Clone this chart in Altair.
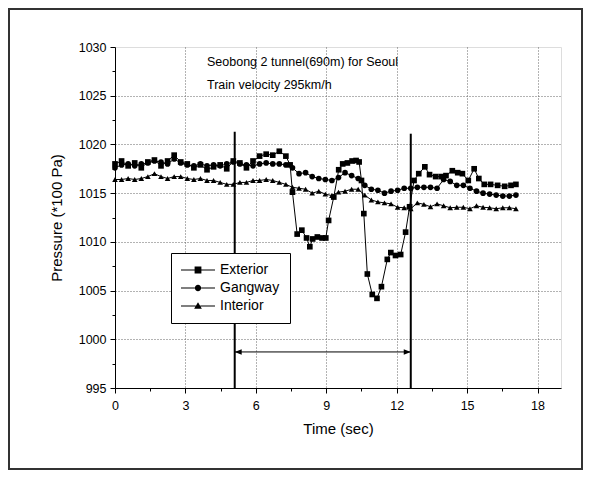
import altair as alt
import pandas as pd

FONT = "Liberation Sans"

series_names = ["Exterior", "Gangway", "Interior"]

ext_t = [0.0, 0.28, 0.56, 0.84, 1.12, 1.4, 1.68, 1.96, 2.24, 2.52,
         2.8, 3.08, 3.36, 3.64, 3.92, 4.2, 4.48, 4.76, 5.04, 5.32,
         5.6, 5.88, 6.16, 6.44, 6.72, 7.0, 7.28, 7.46, 7.56, 7.76,
         7.96, 8.16, 8.3, 8.42, 8.62, 8.82, 8.98, 9.1, 9.32, 9.53,
         9.7, 9.9, 10.1, 10.27, 10.4, 10.5, 10.6, 10.75, 10.96, 11.16,
         11.35, 11.6, 11.75, 11.95, 12.17, 12.38, 12.55, 12.74, 12.94, 13.2,
         13.4, 13.66, 13.9, 14.1, 14.37, 14.6, 14.8, 15.05, 15.3, 15.5,
         15.73, 16.0, 16.3, 16.6, 16.87, 17.08]
ext_p = [1018.0, 1018.3, 1017.8, 1018.1, 1017.6, 1018.2, 1018.4, 1017.8, 1018.3, 1018.9,
         1018.2, 1018.0, 1017.6, 1017.9, 1017.4, 1017.7, 1017.9, 1017.5, 1018.3, 1018.1,
         1017.6, 1018.3, 1018.8, 1019.0, 1018.9, 1019.3, 1018.8, 1017.9, 1015.1, 1010.8,
         1011.2, 1010.4, 1009.5, 1010.3, 1010.5, 1010.4, 1010.4, 1012.2, 1014.6, 1017.4,
         1018.0, 1018.1, 1018.3, 1018.35, 1018.2, 1016.3, 1012.9, 1006.7, 1004.6, 1004.2,
         1005.4, 1008.2, 1008.9, 1008.6, 1008.7, 1011.0, 1013.6, 1016.3, 1017.0, 1017.7,
         1016.9, 1016.7, 1016.7, 1016.8, 1017.3, 1017.1, 1017.0, 1016.3, 1017.5, 1016.5,
         1015.9, 1015.9, 1015.8, 1015.7, 1015.8, 1015.9]

common_t = [0.0, 0.28, 0.56, 0.84, 1.12, 1.4, 1.68, 1.96, 2.24, 2.52,
            2.8, 3.08, 3.36, 3.64, 3.92, 4.2, 4.48, 4.76, 5.04, 5.32,
            5.6, 5.88, 6.16, 6.44, 6.72, 7.0, 7.28, 7.56, 7.84, 8.12,
            8.4, 8.68, 8.96, 9.24, 9.52, 9.8, 10.08, 10.36, 10.64, 10.92,
            11.2, 11.48, 11.76, 12.04, 12.32, 12.6, 12.88, 13.16, 13.44, 13.72,
            14.0, 14.28, 14.56, 14.84, 15.12, 15.4, 15.68, 15.96, 16.24, 16.52,
            16.8, 17.08]
gang_p = [1017.6, 1017.9, 1018.0, 1017.8, 1018.0, 1018.1, 1018.3, 1018.2, 1018.0, 1018.5,
          1018.1, 1017.9, 1017.8, 1018.0, 1017.8, 1017.9, 1017.8, 1018.0, 1018.2, 1018.0,
          1017.9, 1017.8, 1018.0, 1018.1, 1018.0, 1018.0, 1017.9, 1017.6, 1017.0, 1017.1,
          1016.7, 1016.5, 1016.4, 1016.3, 1016.6, 1017.1, 1016.8, 1016.5, 1015.8, 1015.4,
          1015.3, 1015.0, 1015.2, 1015.3, 1015.5, 1015.5, 1015.6, 1015.6, 1015.6, 1015.5,
          1016.4, 1016.2, 1015.8, 1015.8, 1015.5, 1015.2, 1015.0, 1014.9, 1014.8, 1014.7,
          1014.7, 1014.8]
int_p = [1016.4, 1016.4, 1016.5, 1016.4, 1016.5, 1016.7, 1017.0, 1016.7, 1016.5, 1016.7,
         1016.7, 1016.5, 1016.4, 1016.5, 1016.3, 1016.3, 1016.1, 1015.9, 1015.9, 1016.1,
         1016.1, 1016.3, 1016.3, 1016.4, 1016.3, 1016.1, 1015.9, 1015.6, 1015.5, 1015.4,
         1015.0, 1015.2, 1014.9, 1014.75, 1015.1, 1015.2, 1015.4, 1015.4, 1014.8, 1014.3,
         1014.1, 1014.0, 1013.9, 1013.55, 1013.5, 1013.4, 1014.0, 1013.85, 1013.6, 1013.9,
         1013.7, 1013.5, 1013.55, 1013.55, 1013.4, 1013.7, 1013.55, 1013.5, 1013.4, 1013.5,
         1013.5, 1013.4]

# tunnel entry / exit markers
tunnel_t = [5.1, 12.6]
tunnel_top = [1021.3, 1021.1]
arrow_p = [998.7, 998.7]

x_major = [0, 3, 6, 9, 12, 15, 18]
x_grid = [3, 6, 9, 12, 15, 18]
x_minor = [1.5, 4.5, 7.5, 10.5, 13.5, 16.5]
y_major = [995, 1000, 1005, 1010, 1015, 1020, 1025, 1030]
y_grid = [1000, 1005, 1010, 1015, 1020, 1025]
y_minor = [997.5, 1002.5, 1007.5, 1012.5, 1017.5, 1022.5, 1027.5]

title_lines = ["Seobong 2 tunnel(690m) for Seoul", "Train velocity 295km/h"]

rows = []
for t, p in zip(ext_t, ext_p):
    rows.append({"series": "Exterior", "t": t, "p": p})
for t, p in zip(common_t, gang_p):
    rows.append({"series": "Gangway", "t": t, "p": p})
for t, p in zip(common_t, int_p):
    rows.append({"series": "Interior", "t": t, "p": p})
df = pd.DataFrame(rows)

tun_df = pd.DataFrame({"t": tunnel_t, "top": tunnel_top, "bot": [995, 995], "arrow": arrow_p})

xs = alt.Scale(domain=[0, 19], nice=False, zero=False)
ys = alt.Scale(domain=[995, 1030], nice=False, zero=False)

ax_common = dict(labelFont=FONT, titleFont=FONT, labelColor="black", titleColor="black",
                 domainColor="black", tickColor="black", titleFontWeight="normal")

# main axes
x_main = alt.Axis(values=x_major, grid=False, tickSize=5, labelFontSize=12.5, labelPadding=6,
                  titleFontSize=15, titlePadding=10, orient="bottom", labelFlush=False,
                  format="d", **ax_common)
y_main = alt.Axis(values=y_major, grid=False, tickSize=5, labelFontSize=12.5, labelPadding=4,
                  titleFontSize=15, titlePadding=14, orient="left", format="d", **ax_common)

lines = alt.Chart(df).mark_line(color="black", strokeWidth=1).encode(
    x=alt.X("t:Q", scale=xs, axis=x_main, title="Time (sec)"),
    y=alt.Y("p:Q", scale=ys, axis=y_main, title="Pressure (*100 Pa)"),
    detail="series:N",
)

# grid-only axes
x_grid_ax = alt.Axis(values=x_grid, grid=True, gridDash=[1, 2], gridColor="#666", gridWidth=1,
                     labels=False, ticks=False, domain=False, orient="bottom", title=None)
y_grid_ax = alt.Axis(values=y_grid, grid=True, gridDash=[1, 2], gridColor="#666", gridWidth=1,
                     labels=False, ticks=False, domain=False, orient="left", title=None)

points = alt.Chart(df).mark_point(filled=True, color="black", size=32, opacity=1).encode(
    x=alt.X("t:Q", scale=xs, axis=x_grid_ax),
    y=alt.Y("p:Q", scale=ys, axis=y_grid_ax),
    shape=alt.Shape("series:N", scale=alt.Scale(domain=series_names,
                                                range=["square", "circle", "triangle-up"]),
                    legend=None),
)

# minor ticks axes
x_minor_ax = alt.Axis(values=x_minor, grid=False, labels=False, ticks=True, tickSize=3,
                      tickColor="black", domain=False, orient="bottom", title=None)
y_minor_ax = alt.Axis(values=y_minor, grid=False, labels=False, ticks=True, tickSize=3,
                      tickColor="black", domain=False, orient="left", title=None)

tun_rules = alt.Chart(tun_df).mark_rule(color="black", strokeWidth=2).encode(
    x=alt.X("t:Q", scale=xs, axis=x_minor_ax),
    y=alt.Y("bot:Q", scale=ys, axis=y_minor_ax),
    y2="top:Q",
)

arrow_line = alt.Chart(tun_df).mark_line(color="black", strokeWidth=1).encode(
    x=alt.X("t:Q", scale=xs, axis=None),
    y=alt.Y("arrow:Q", scale=ys, axis=None),
)
arrow_l = alt.Chart(tun_df.iloc[[0]]).mark_point(
    shape="M0,0L1,-0.4L1,0.4Z", filled=True, color="black", size=196, opacity=1).encode(
    x=alt.X("t:Q", scale=xs, axis=None),
    y=alt.Y("arrow:Q", scale=ys, axis=None),
)
arrow_r = alt.Chart(tun_df.iloc[[1]]).mark_point(
    shape="M0,0L-1,-0.4L-1,0.4Z", filled=True, color="black", size=196, opacity=1).encode(
    x=alt.X("t:Q", scale=xs, axis=None),
    y=alt.Y("arrow:Q", scale=ys, axis=None),
)

# legend symbols: line with marker, drawn as filled shapes (unit = 7px)
legend_paths = [
    "M-1,-0.07H0.943V0.07H-1Z M1.914,-0.07H3.857V0.07H1.914Z M0.943,-0.486H1.914V0.486H0.943Z",
    "M-1,-0.07H0.98V0.07H-1Z M1.88,-0.07H3.857V0.07H1.88Z M1.8786,0A0.45,0.45,0,1,1,0.9786,0A0.45,0.45,0,1,1,1.8786,0Z",
    "M-1,-0.07H1.11V0.07H-1Z M1.75,-0.07H3.857V0.07H1.75Z M1.4286,-0.55L1.9786,0.4H0.8786Z",
]
legend_layer = alt.Chart(df).mark_point(filled=True, color="black", opacity=0, size=1).encode(
    x=alt.X("t:Q", scale=xs, axis=None),
    y=alt.Y("p:Q", scale=ys, axis=None),
    shape=alt.Shape("series:N", scale=alt.Scale(domain=series_names, range=legend_paths),
                    legend=alt.Legend(title=None, orient="none", legendX=56, legendY=206,
                                      direction="vertical", symbolSize=196,
                                      symbolFillColor="black",
                                      symbolStrokeWidth=0, symbolOpacity=1,
                                      labelFont=FONT, labelFontSize=14, labelColor="black",
                                      labelOffset=25, strokeColor="black", fillColor="white",
                                      padding=10, rowPadding=4)),
)

text1 = alt.Chart(pd.DataFrame({"txt": [title_lines[0]]})).mark_text(
    align="left", baseline="middle", font=FONT, fontSize=12.5, color="black").encode(
    x=alt.value(92), y=alt.value(15), text="txt:N")
text2 = alt.Chart(pd.DataFrame({"txt": [title_lines[1]]})).mark_text(
    align="left", baseline="middle", font=FONT, fontSize=12.5, color="black").encode(
    x=alt.value(92), y=alt.value(38), text="txt:N")

frame = alt.Chart(pd.DataFrame({"a": [0]})).mark_rect(
    fillOpacity=0, stroke="#333", strokeWidth=2).encode(
    x=alt.value(-106), x2=alt.value(467), y=alt.value(-38), y2=alt.value(422))

chart = alt.layer(
    frame, points, lines, tun_rules, arrow_line, arrow_l, arrow_r, text1, text2, legend_layer
).resolve_scale(
    shape="independent"
).resolve_axis(
    x="independent", y="independent"
).properties(
    width=446, height=341,
    autosize=alt.AutoSizeParams(type="none"),
    padding={"left": 107, "top": 39, "right": 22, "bottom": 82},
).configure_view(
    stroke=None
).configure(background="white")

chart.save("out.html", embed_options={"renderer": "svg", "actions": False})
